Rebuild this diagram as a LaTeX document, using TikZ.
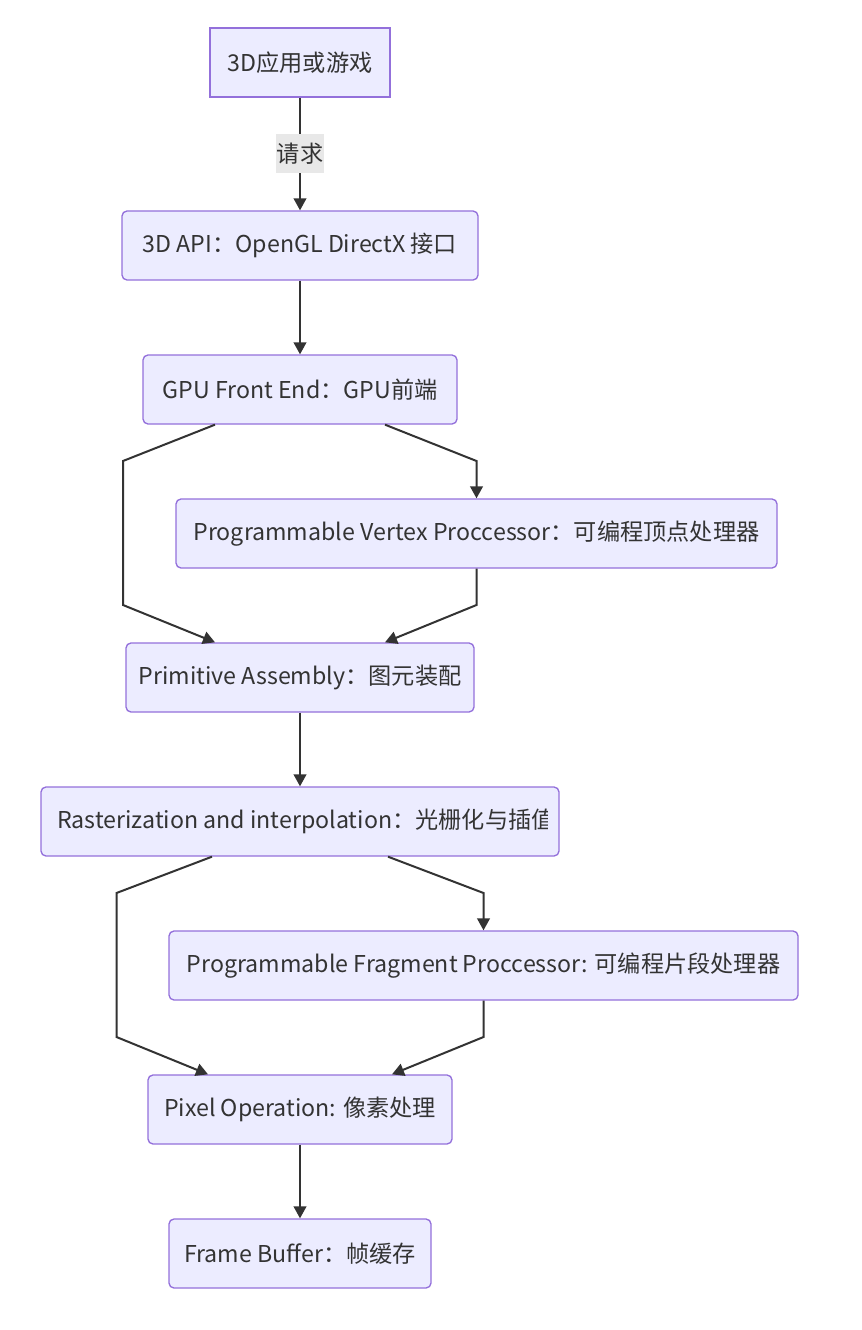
\documentclass[tikz,border=0pt]{standalone}
\usepackage{fontspec}
\setmainfont{Noto Sans CJK SC}
\usetikzlibrary{arrows.meta}
\definecolor{nodefill}{HTML}{ECECFF}
\definecolor{nodeline}{HTML}{9370DB}
\definecolor{linegray}{HTML}{333333}
\definecolor{labelgray}{HTML}{E8E8E8}
\begin{document}
\begin{tikzpicture}
		[x=0.75pt,y=-0.75pt,
		mynode/.style={
			rectangle,
			rounded corners=3.75pt,
			draw=nodeline,
			line width=1pt,
			fill=nodefill,
			text=linegray,
			font=\fontsize{17.4pt}{21pt}\selectfont,
			inner sep=0pt,
			minimum height=51.75pt
		},
		myedge/.style={draw=linegray,line width=1.5pt,-{Triangle[length=9pt,width=9.5pt]}},
		edgelabel/.style={rectangle,fill=labelgray,text=linegray,font=\fontsize{17.4pt}{21pt}\selectfont,minimum width=36pt,minimum height=29.25pt,inner sep=0pt}]
		\useasboundingbox (0,0) rectangle (861,1330);
		% nodes
		\node[mynode,sharp corners,minimum width=135pt] (app) at (300,62.5) {3D应用或游戏};
		\node[mynode,minimum width=267pt] (api) at (300,245.5) {3D API：OpenGL DirectX 接口};
		\node[mynode,minimum width=235.5pt] (gpu) at (300,389.5) {GPU Front End：GPU前端};
		\node[mynode,minimum width=450.75pt] (vertex) at (476.5,533.5) {Programmable Vertex Proccessor：可编程顶点处理器};
		\node[mynode,minimum width=261pt] (prim) at (300,677.5) {Primitive Assembly：图元装配};
		\node[mynode,minimum width=388.5pt] (raster) at (300,821.5) {};
		\begin{scope}
			\clip (57,790) rectangle (547,853);
			\node[text=linegray,font=\fontsize{17.4pt}{21pt}\selectfont,anchor=west,inner sep=0pt] (rastertext) at (57,821.5) {Rasterization and interpolation：光栅化与插值};
		\end{scope}
		\node[mynode,minimum width=471.75pt] (fragment) at (483.5,965.5) {Programmable Fragment Proccessor: 可编程片段处理器};
		\node[mynode,minimum width=228pt] (pixel) at (300,1109.5) {Pixel Operation: 像素处理};
		\node[mynode,minimum width=196.5pt] (frame) at (300,1253.5) {Frame Buffer：帧缓存};
		% edges
		\draw[myedge] (app) -- node[edgelabel] (req) {请求} (api);
		\draw[myedge] (api) -- (gpu);
		\draw[myedge] ([xshift=63.75pt]gpu.south) -- (476.5,461) -- (vertex.north);
		\draw[myedge] ([xshift=-63.75pt]gpu.south) -- (123,461) -- (123,605) -- ([xshift=-63.75pt]prim.north);
		\draw[myedge] (vertex.south) -- (476.5,605) -- ([xshift=63.75pt]prim.north);
		\draw[myedge] (prim) -- (raster);
		\draw[myedge] ([xshift=66pt]raster.south) -- (483.5,893) -- (fragment.north);
		\draw[myedge] ([xshift=-66pt]raster.south) -- (116.5,893) -- (116.5,1037) -- ([xshift=-69pt]pixel.north);
		\draw[myedge] (fragment.south) -- (483.5,1037) -- ([xshift=69pt]pixel.north);
		\draw[myedge] (pixel) -- (frame);
\end{tikzpicture}
\end{document}
